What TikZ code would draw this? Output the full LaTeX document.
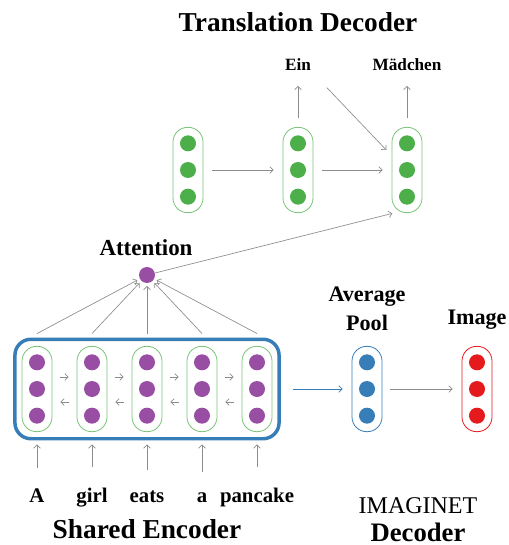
\documentclass[tikz,border=0pt]{standalone}
\usepackage{fontspec}
\setmainfont{Liberation Serif}
\usetikzlibrary{arrows.meta, positioning, fit, calc}
\definecolor{nnred}{HTML}{E41A1C}
\definecolor{nnblue}{HTML}{377EB8}
\definecolor{nngreen}{HTML}{4DAF4A}
\definecolor{nnpurple}{HTML}{984EA3}
\definecolor{nngray}{HTML}{8C8C8C}

\begin{document}
\begin{tikzpicture}[
  x=0.75pt, y=-0.75pt,
  every node/.style={font=\bfseries},
  capsule/.style={rectangle, draw, rounded corners=11pt, minimum width=22.5pt, minimum height=64pt, line width=0.6pt},
  unit/.style={circle, inner sep=0pt, minimum size=12pt},
  arr/.style={-{Straight Barb[length=2.5pt, width=5pt]}, draw=nngray, line width=0.5pt},
  word/.style={font=\fontsize{15.6}{18}\bfseries\selectfont, anchor=base, inner sep=0pt},
  outword/.style={font=\fontsize{12.9}{15}\bfseries\selectfont, text height=1.6ex, text depth=0pt, inner sep=0pt},
]
\useasboundingbox (0,0) rectangle (508,545);

% Translation decoder
\node[font=\fontsize{20.5}{24}\bfseries\selectfont] (tdec) at (298,22) {Translation Decoder};
\node[capsule, draw=nngreen!75] (d1) at (188,170) {};
\node[capsule, draw=nngreen!75] (d2) at (298,170) {};
\node[capsule, draw=nngreen!75] (d3) at (407,170) {};
\node[outword] (ein) at (298,66) {Ein};
\node[outword] (maedchen) at (407,66) {Mädchen};

% Shared encoder
\node[capsule, draw=nngreen!75] (e1) at (37,389) {};
\node[capsule, draw=nngreen!75] (e2) at (92,389) {};
\node[capsule, draw=nngreen!75] (e3) at (147,389) {};
\node[capsule, draw=nngreen!75] (e4) at (202,389) {};
\node[capsule, draw=nngreen!75] (e5) at (257,389) {};
\node[fit=(e1)(e5), draw=nnblue, line width=2.6pt, rounded corners=12pt, inner sep=5pt] (enc) {};

% ImagiNet decoder
\node[capsule, draw=nnblue] (pool) at (367,389) {};
\node[capsule, draw=nnred] (img) at (477,389) {};

% units inside the capsules
\foreach \c/\col in {d1/nngreen, d2/nngreen, d3/nngreen, e1/nnpurple, e2/nnpurple, e3/nnpurple, e4/nnpurple, e5/nnpurple, pool/nnblue, img/nnred} {
  \node[unit, fill=\col] (\c-1) at ([yshift=20pt]\c.center) {};
  \node[unit, fill=\col] (\c-2) at (\c.center) {};
  \node[unit, fill=\col] (\c-3) at ([yshift=-20pt]\c.center) {};
}

% Attention
\node[unit, fill=nnpurple] (attn) at (147,275) {};
\node[font=\fontsize{17.2}{20}\bfseries\selectfont] (attnlbl) at (146,248) {Attention};

% Labels
\node[font=\fontsize{16.6}{21.75}\bfseries\selectfont, align=center] (poollbl) at (367,309) {Average\\Pool};
\node[font=\fontsize{16.6}{20}\bfseries\selectfont] (imglbl) at (477,320) {Image};
\node[word] (w1) at (37,502) {A};
\node[word] (w2) at (92,502) {girl};
\node[word] (w3) at (147,502) {eats};
\node[word] (w4) at (202,502) {a};
\node[word] (w5) at (257,502) {pancake};
\node[font=\fontsize{20.5}{24}\bfseries\selectfont] (senc) at (147,529) {Shared Encoder};
\node[font=\fontsize{18}{20}\selectfont] (imaginet) at (418,506) {IMAGINET};
\node[font=\fontsize{20}{24}\bfseries\selectfont] (idec) at (418,532) {Decoder};

% Connections
\draw[arr, shorten <=6.75pt, shorten >=6.75pt] (d1) -- (d2);
\draw[arr, shorten <=6.75pt, shorten >=6.75pt] (d2) -- (d3);
\draw[arr, shorten <=6.5pt, shorten >=11pt] (d2.north) -- (d2.north |- ein.south);
\draw[arr, shorten <=6.5pt, shorten >=11pt] (d3.north) -- (d3.north |- maedchen.south);
\draw[arr, shorten <=17pt] (ein.south east) -- ([xshift=-4pt, yshift=15pt]d3.west);
\draw[arr, shorten >=1pt] (attn) -- ([xshift=1.5pt]d3.south west);
\foreach \i/\j in {e1/e2, e2/e3, e3/e4, e4/e5} {
  \draw[arr, shorten <=6pt, shorten >=6pt] ([yshift=9pt]\i.east) -- ([yshift=9pt]\j.west);
  \draw[arr, shorten <=6pt, shorten >=6pt] ([yshift=-9.75pt]\j.west) -- ([yshift=-9.75pt]\i.east);
}
\foreach \e in {e1, e2, e3, e4, e5} \draw[arr, shorten >=2pt] ([yshift=3pt]enc.north -| \e) -- (attn);
\foreach \w in {w1, w2, w3, w4, w5} \draw[arr, shorten <=15pt, shorten >=3pt] (\w.north) -- (\w.north |- enc.south);
\draw[arr, draw=nnblue, shorten <=9pt, shorten >=6.75pt] (enc.east |- pool) -- (pool);
\draw[arr, shorten <=6pt, shorten >=6.75pt] (pool) -- (img);
\end{tikzpicture}
\end{document}
